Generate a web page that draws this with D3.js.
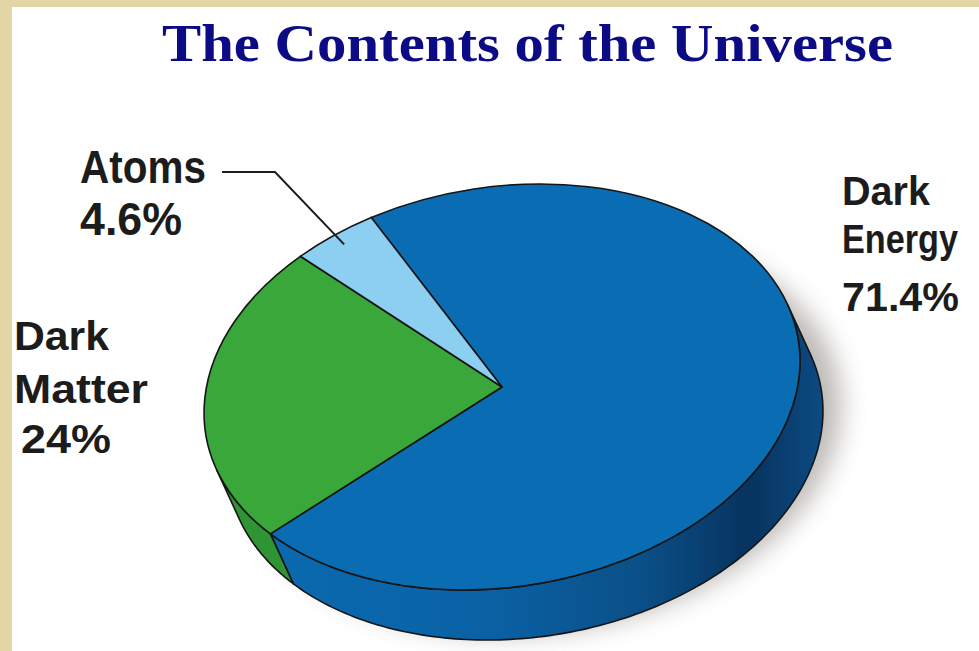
<!DOCTYPE html>
<html>
<head>
<meta charset="utf-8">
<script src="https://cdn.jsdelivr.net/npm/d3@7"></script>
<style>
  html, body { margin: 0; padding: 0; background: #ffffff; }
  svg { display: block; }
</style>
</head>
<body>
<svg id="chart" width="979" height="651"></svg>
<script>
// Composition of the universe (percent of total energy density)
const categories = ["Dark Energy", "Dark Matter", "Atoms"];
const shares = [71.4, 24, 4.6];
const labelLines = [["Dark", "Energy", "71.4%"], ["Dark", "Matter", "24%"], ["Atoms", "4.6%"]];
const topColors = ["#0a6db3", "#3aa73a", "#8ccff0"];
const wallColors = ["url(#wallBlue)", "#2f9433", "#6fb6db"];

const W = 979, H = 651;
const svg = d3.select("#chart");

// Disc geometry: tilted ellipse seen from above, extruded down-right
const cx = 502, cy = 387, rx = 300, ry = 200, tilt = -9;
const depth = { x: 23, y: 50 };
const T = tilt * Math.PI / 180;

function pt(a, k = 1, dx = 0, dy = 0) {
  const ux = rx * k * Math.sin(a), uy = -ry * k * Math.cos(a);
  return [cx + ux * Math.cos(T) - uy * Math.sin(T) + dx,
          cy + ux * Math.sin(T) + uy * Math.cos(T) + dy];
}
function facesFront(a) {
  const dux = rx * Math.cos(a), duy = ry * Math.sin(a);
  const tx = dux * Math.cos(T) - duy * Math.sin(T);
  const ty = dux * Math.sin(T) + duy * Math.cos(T);
  return ty * depth.x - tx * depth.y > 0;
}

const defs = svg.append("defs");
const g1 = defs.append("linearGradient").attr("id", "wallBlue")
  .attr("gradientUnits", "userSpaceOnUse")
  .attr("x1", 250).attr("y1", 0).attr("x2", 830).attr("y2", 0);
[[0, "#0b6ab0"], [0.4, "#0a62a5"], [0.68, "#0a4f87"], [0.86, "#07335f"], [1, "#0c4d86"]]
  .forEach(([o, c]) => g1.append("stop").attr("offset", o).attr("stop-color", c));
defs.append("filter").attr("id", "soft")
  .attr("x", "-30%").attr("y", "-30%").attr("width", "160%").attr("height", "160%")
  .append("feGaussianBlur").attr("stdDeviation", 13);

// Frame
svg.append("rect").attr("width", W).attr("height", H).attr("fill", "#e3d5a5");
svg.append("rect").attr("x", 12).attr("y", 7).attr("width", W - 12).attr("height", H - 7).attr("fill", "#ffffff");

// Title
svg.append("text")
  .attr("x", 162).attr("y", 61)
  .attr("textLength", 731).attr("lengthAdjust", "spacingAndGlyphs")
  .attr("font-family", "'Liberation Serif', 'Times New Roman', serif")
  .attr("font-weight", "bold").attr("font-size", 53)
  .attr("fill", "#0b0b86")
  .text("The Contents of the Universe");

const pie = d3.pie().sort(null).value(d => d)
  .startAngle(-20 * Math.PI / 180).endAngle(-20 * Math.PI / 180 + 2 * Math.PI);
const arcs = pie(shares);

// Soft drop shadow under the disc
const shadowPts = d3.range(0, 361, 2).map(d => pt(d * Math.PI / 180, 1, depth.x + 18, depth.y - 6));
svg.append("path")
  .attr("d", d3.line()(shadowPts) + "Z")
  .attr("fill", "#8f8a84").attr("opacity", 0.6)
  .attr("filter", "url(#soft)");

// Side walls: only the part of each slice's rim that faces the viewer
const wallG = svg.append("g");
arcs.forEach((s, i) => {
  const n = 240;
  const runs = [];
  let cur = null;
  for (let j = 0; j <= n; j++) {
    const a = s.startAngle + (s.endAngle - s.startAngle) * j / n;
    if (facesFront(a)) { (cur || (cur = [], runs.push(cur), cur)).push(a); }
    else cur = null;
  }
  runs.forEach(r => {
    const top = r.map(a => pt(a));
    const bot = r.slice().reverse().map(a => pt(a, 1, depth.x, depth.y));
    wallG.append("path")
      .attr("d", d3.line()(top.concat(bot)) + "Z")
      .attr("fill", wallColors[i])
      .attr("stroke", "#151515").attr("stroke-width", 1.6)
      .attr("stroke-linejoin", "round");
  });
});

// Top face slices
const arcGen = d3.arc().innerRadius(0).outerRadius(rx);
svg.append("g")
  .attr("transform", `translate(${cx},${cy}) rotate(${tilt}) scale(1,${ry / rx})`)
  .selectAll("path").data(arcs).join("path")
  .attr("d", arcGen)
  .attr("fill", (d, i) => topColors[i])
  .attr("stroke", "#151515").attr("stroke-width", 1.6)
  .attr("stroke-linejoin", "round")
  .attr("vector-effect", "non-scaling-stroke");

// Labels (narrow bold, set to fixed line widths)
const labelFont = "'Liberation Sans Narrow', 'Arial Narrow', sans-serif";
const labelSpecs = [
  { xs: [842, 842, 842], ys: [205, 253, 311], widths: [88, 116, 117], size: 40 },
  { xs: [14, 14, 21], ys: [350, 403, 453], widths: [95, 134, 90], size: 41 },
  { xs: [80, 80], ys: [183, 235], widths: [126, 102], size: 47 }
];
labelSpecs.forEach((spec, i) => {
  labelLines[i].forEach((line, j) => {
    svg.append("text")
      .attr("x", spec.xs[j]).attr("y", spec.ys[j])
      .attr("textLength", spec.widths[j]).attr("lengthAdjust", "spacingAndGlyphs")
      .attr("font-family", labelFont)
      .attr("font-weight", "bold").attr("font-size", spec.size)
      .attr("fill", "#1c1c1c")
      .text(line);
  });
});

// Leader line from the Atoms label into its slice
const atoms = arcs[2];
const tip = pt((atoms.startAngle + atoms.endAngle) / 2, 0.94);
svg.append("path")
  .attr("d", d3.line()([[222, 172], [275, 172], tip]))
  .attr("fill", "none").attr("stroke", "#1c1c1c").attr("stroke-width", 2);
</script>
</body>
</html>
